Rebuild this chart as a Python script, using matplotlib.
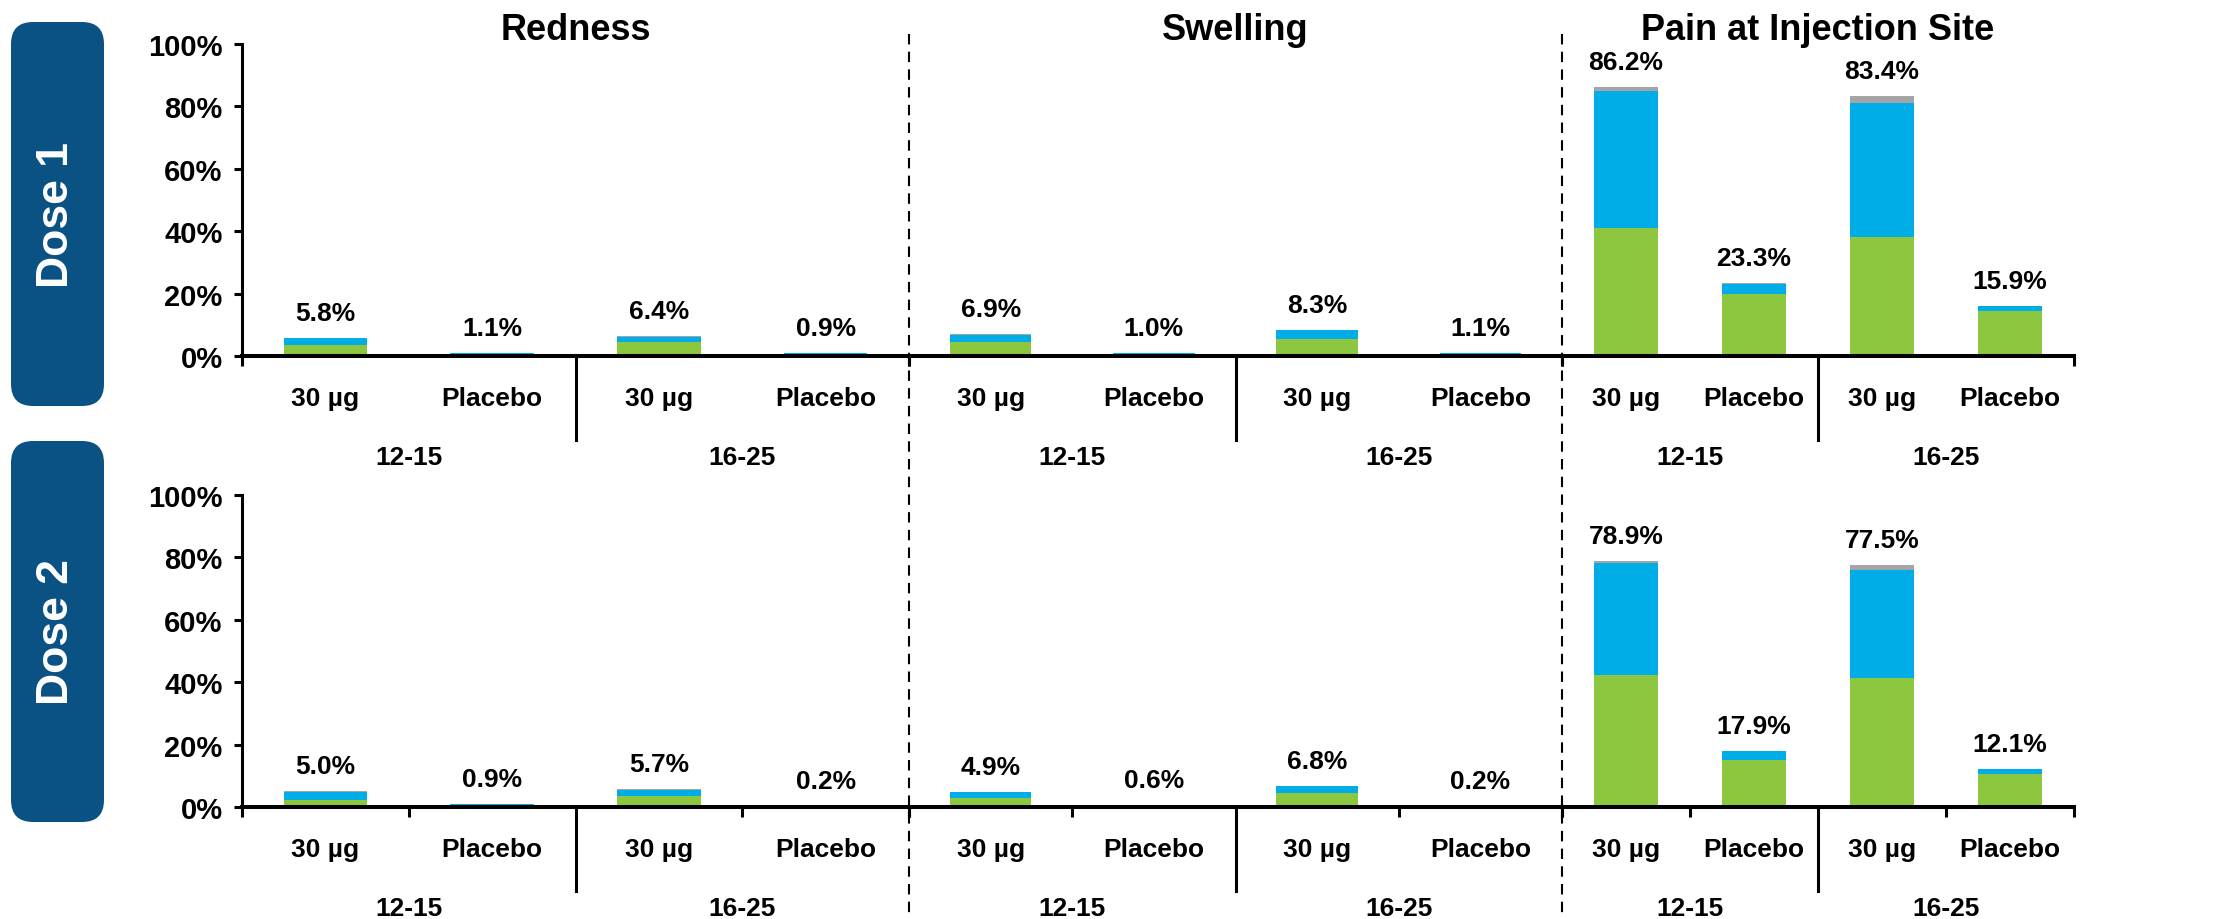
import numpy as np
import matplotlib
matplotlib.use('Agg')
import matplotlib.pyplot as plt
from matplotlib.patches import FancyBboxPatch
from matplotlib.lines import Line2D

plt.rcParams['font.family'] = ['Liberation Sans', 'DejaVu Sans']
plt.rcParams['font.weight'] = 'bold'

# ---------------- data (percent of participants) ----------------
panels = ['Redness', 'Swelling', 'Pain at Injection Site']
doses = ['Dose 1', 'Dose 2']
bar_labels = ['30 µg', 'Placebo', '30 µg', 'Placebo']
age_groups = ['12-15', '16-25']

# one list per panel: [12-15 30µg, 12-15 placebo, 16-25 30µg, 16-25 placebo]
mild_d1 = [[3.5, 0.8, 4.5, 0.4], [4.5, 0.5, 5.6, 0.6], [41.0, 20.0, 38.1, 14.5]]
moderate_d1 = [[2.2, 0.3, 1.5, 0.5], [2.3, 0.5, 2.6, 0.5], [44.0, 3.2, 42.9, 1.4]]
severe_d1 = [[0.1, 0.0, 0.4, 0.0], [0.1, 0.0, 0.1, 0.0], [1.2, 0.1, 2.4, 0.0]]

mild_d2 = [[2.4, 0.4, 3.5, 0.2], [2.8, 0.3, 4.4, 0.1], [42.3, 15.1, 41.2, 10.6]]
moderate_d2 = [[2.5, 0.5, 2.1, 0.0], [2.0, 0.3, 2.3, 0.1], [35.9, 2.7, 34.9, 1.5]]
severe_d2 = [[0.1, 0.0, 0.1, 0.0], [0.1, 0.0, 0.1, 0.0], [0.7, 0.1, 1.4, 0.0]]

total_d1 = [[5.8, 1.1, 6.4, 0.9], [6.9, 1.0, 8.3, 1.1], [86.2, 23.3, 83.4, 15.9]]
total_d2 = [[5.0, 0.9, 5.7, 0.2], [4.9, 0.6, 6.8, 0.2], [78.9, 17.9, 77.5, 12.1]]

yticks = [0, 20, 40, 60, 80, 100]

# ---------------- style ----------------
GREEN = '#8DC63F'
BLUE = '#00ADE7'
GRAY = '#A5A5A5'
DOSE_BLUE = '#0B5284'

W, H = 2224, 920
PT = 0.72  # points per pixel at dpi 100

fig = plt.figure(figsize=(W / 100, H / 100), dpi=100)

# background axes in pixel coordinates for boxes / separators
bg = fig.add_axes([0, 0, 1, 1])
bg.set_xlim(0, W)
bg.set_ylim(H, 0)
bg.axis('off')

panel_x = [242, 909, 1562, 2074]
row_y = [(45, 357), (496, 808)]
box_y = [(23, 407), (442, 823)]

rows = [(mild_d1, moderate_d1, severe_d1, total_d1),
        (mild_d2, moderate_d2, severe_d2, total_d2)]

for r, (mild, moderate, severe, total) in enumerate(rows):
    ytop, ybot = row_y[r]
    # dose box
    b0, b1 = box_y[r]
    bg.add_patch(FancyBboxPatch((11, b0), 93, b1 - b0,
                                boxstyle='round,pad=0,rounding_size=22',
                                facecolor=DOSE_BLUE, edgecolor='none'))
    bg.text(57, (b0 + b1) / 2, doses[r], rotation=90, color='white',
            fontsize=32, ha='center', va='center')

    for p in range(3):
        x0, x1 = panel_x[p], panel_x[p + 1]
        ax = fig.add_axes([x0 / W, 1 - ybot / H, (x1 - x0) / W, (ybot - ytop) / H])
        ax.patch.set_visible(False)
        pos = np.arange(4) + 0.5
        m = np.array(mild[p])
        mo = np.array(moderate[p])
        s = np.array(severe[p])
        ax.bar(pos, m, width=0.5, color=GREEN)
        ax.bar(pos, mo, width=0.5, bottom=m, color=BLUE)
        ax.bar(pos, s, width=0.5, bottom=m + mo, color=GRAY)
        ax.set_xlim(0, 4)
        ax.set_ylim(0, 100)

        for spine in ['top', 'right']:
            ax.spines[spine].set_visible(False)
        ax.spines['bottom'].set_linewidth(2.9)
        if p == 0:
            ax.spines['left'].set_linewidth(2.2)
            ax.set_yticks(yticks)
            ax.set_yticklabels(['%d%%' % v for v in yticks], fontsize=21)
            ax.tick_params(axis='y', length=6, width=2.2, pad=8)
        else:
            ax.spines['left'].set_visible(False)
            ax.set_yticks([])

        ax.set_xticks([0, 4])
        ax.set_xticklabels([])
        ax.tick_params(axis='x', length=7, width=2.2)
        if r == 1:
            ax.set_xticks([1, 3], minor=True)
            ax.tick_params(axis='x', which='minor', length=7, width=2.2)

        # group separator
        ax.plot([2, 2], [0, -84 / 312], transform=ax.get_xaxis_transform(),
                color='black', lw=2.2, clip_on=False)

        for i in range(4):
            ax.annotate('%.1f%%' % total[p][i], xy=(pos[i], m[i] + mo[i] + s[i]),
                        xytext=(0, 13), textcoords='offset points',
                        ha='center', va='baseline', fontsize=19)
            ax.annotate(bar_labels[i], xy=(pos[i], 0), xycoords=('data', 'axes fraction'),
                        xytext=(0, -49 * PT), textcoords='offset points',
                        ha='center', va='baseline', fontsize=19)
        for g in range(2):
            ax.annotate(age_groups[g], xy=(1 + 2 * g, 0), xycoords=('data', 'axes fraction'),
                        xytext=(0, -108 * PT), textcoords='offset points',
                        ha='center', va='baseline', fontsize=19)

        if r == 0:
            ax.text(0.5, 1 + 5 / 312, panels[p], transform=ax.transAxes,
                    ha='center', va='baseline', fontsize=26)

# dashed separators between panels
for x in panel_x[1:3]:
    bg.add_line(Line2D([x, x], [35, H], color='black', lw=1.5,
                       linestyle=(0, (5, 3.5))))

fig.savefig('out.png', dpi=100)
